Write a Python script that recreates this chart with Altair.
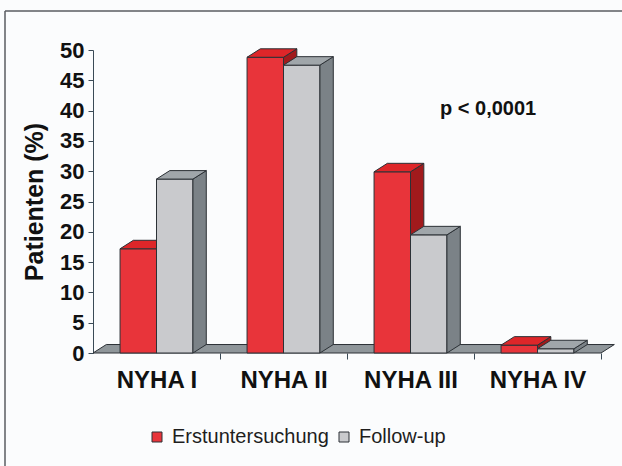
import altair as alt
import pandas as pd

# --- data -------------------------------------------------------------
categories = ["NYHA I", "NYHA II", "NYHA III", "NYHA IV"]
series = ["Erstuntersuchung", "Follow-up"]
erstuntersuchung = [17.2, 48.8, 29.9, 1.3]
follow_up = [28.7, 47.5, 19.5, 0.7]

# --- styling ----------------------------------------------------------
FONT = "Liberation Sans"
OUTLINE = "#2c3136"
RED, RED_TOP, RED_SIDE = "#e8343a", "#de2629", "#a11a1c"
GRAY, GRAY_TOP, GRAY_SIDE = "#c9cacd", "#a0a6aa", "#7b8287"
FLOOR = "#8f969a"
AXIS = "#3a4a56"

# pseudo-3D geometry, in data units (x: category slots, y: percent)
GAP = 0.213      # space before the first bar of a group
BAR_W = 0.287    # bar width
DX = 0.105       # depth offset to the right
DY = 1.4         # depth offset upward


def bar_faces(values, k):
    """Front, side and top faces of one series' bars."""
    front, side, top = [], [], []
    for i, (cat, v) in enumerate(zip(categories, values)):
        x0 = i + GAP + k * BAR_W
        x1 = x0 + BAR_W
        bid = f"{k}-{i}"
        front.append(dict(series=series[k], cat=cat, x0=x0, x1=x1, v=v, base=0))
        side += [dict(bid=bid, x=x1, y=v, y2=0),
                 dict(bid=bid, x=x1 + DX, y=v + DY, y2=DY)]
        top += [dict(bid=bid, y=v, x=x0, x2=x1),
                dict(bid=bid, y=v + DY, x=x0 + DX, x2=x1 + DX)]
    return pd.DataFrame(front), pd.DataFrame(side), pd.DataFrame(top)


n = len(categories)
xs = alt.Scale(domain=[0, n], nice=False, zero=False)
ys = alt.Scale(domain=[0, 50], nice=False)
color = alt.Color(
    "series:N",
    scale=alt.Scale(domain=series, range=[RED, GRAY]),
    legend=alt.Legend(
        orient="none", legendX=54, legendY=377, direction="horizontal",
        title=None, symbolType="square", symbolSize=100,
        symbolStrokeColor=OUTLINE, symbolStrokeWidth=1, symbolOpacity=1,
        labelFont=FONT, labelFontSize=20, labelColor="#1e1e1e",
        columnPadding=5, labelOffset=5,
    ),
)

label_expr = (
    "datum.value % 1 === 0.5 ? "
    + str(categories).replace('"', "'")
    + "[floor(datum.value)] : ''"
)
x_axis = alt.Axis(
    values=[0.5, 1, 1.5, 2, 2.5, 3, 3.5, 4],
    labelExpr=label_expr,
    labelFont=FONT, labelFontSize=24, labelFontWeight="bold", labelColor="#111",
    labelPadding=9, labelAngle=0,
    tickSize=6, tickColor=AXIS,
    tickOpacity={"condition": {"test": "datum.value % 1 === 0", "value": 1}, "value": 0},
    domain=False, grid=False, title=None,
)
y_axis = alt.Axis(
    values=list(range(0, 55, 5)),
    labelFont=FONT, labelFontSize=22, labelFontWeight="bold", labelColor="#111",
    labelPadding=4, tickSize=5, tickColor=AXIS, domainColor=AXIS,
    grid=False, title="Patienten (%)", titleFont=FONT, titleFontSize=25,
    titleFontWeight="bold", titleColor="#111", titlePadding=12,
)

# floor under the bars
floor_df = pd.DataFrame(dict(y=[0, DY], x=[0, DX], x2=[n, n + DX]))
floor = alt.Chart(floor_df).mark_area(
    orient="horizontal", color=FLOOR, stroke=OUTLINE, strokeWidth=1
).encode(
    y=alt.Y("y:Q", scale=ys, axis=y_axis),
    x=alt.X("x:Q", scale=xs, axis=x_axis),
    x2="x2",
)

layers = [floor]
for k, (vals, c_top, c_side) in enumerate(
    [(erstuntersuchung, RED_TOP, RED_SIDE), (follow_up, GRAY_TOP, GRAY_SIDE)]
):
    f_df, s_df, t_df = bar_faces(vals, k)
    front = alt.Chart(f_df).mark_rect(stroke=OUTLINE, strokeWidth=1).encode(
        x=alt.X("x0:Q", scale=xs, axis=x_axis), x2="x1",
        y=alt.Y("v:Q", scale=ys, axis=y_axis), y2="base",
        color=color,
        tooltip=["cat:N", "series:N", "v:Q"],
    )
    side = alt.Chart(s_df).mark_area(
        orient="vertical", color=c_side, stroke=OUTLINE, strokeWidth=1
    ).encode(
        x=alt.X("x:Q", scale=xs, axis=x_axis),
        y=alt.Y("y:Q", scale=ys, axis=y_axis), y2="y2",
        detail="bid:N",
    )
    top = alt.Chart(t_df).mark_area(
        orient="horizontal", color=c_top, stroke=OUTLINE, strokeWidth=1
    ).encode(
        y=alt.Y("y:Q", scale=ys, axis=y_axis),
        x=alt.X("x:Q", scale=xs, axis=x_axis), x2="x2",
        detail="bid:N",
    )
    layers += [front, side, top]

# significance note
note = alt.Chart(pd.DataFrame({"t": ["p < 0,0001"]})).mark_text(
    align="left", baseline="middle", font=FONT, fontSize=20,
    fontWeight="bold", color="#111",
).encode(x=alt.value(347), y=alt.value(59), text="t:N")

# thin frame along the top and left edges
frame_left = alt.Chart(pd.DataFrame({"a": [0]})).mark_rule(
    color="#5a5d60", strokeWidth=1.5
).encode(x=alt.value(-88), y=alt.value(-39), y2=alt.value(420))
frame_top = alt.Chart(pd.DataFrame({"a": [0]})).mark_rule(
    color="#5a5d60", strokeWidth=1.5
).encode(x=alt.value(-88), x2=alt.value(540), y=alt.value(-39))

chart = alt.layer(*layers, note, frame_left, frame_top).properties(
    width=508, height=303,
    autosize=alt.AutoSizeParams(type="none"),
    padding={"left": 93, "top": 50, "right": 21, "bottom": 113},
    background="#fbfcfd",
).configure_view(stroke=None)

chart.save("out.html", embed_options={"renderer": "svg", "actions": False})
